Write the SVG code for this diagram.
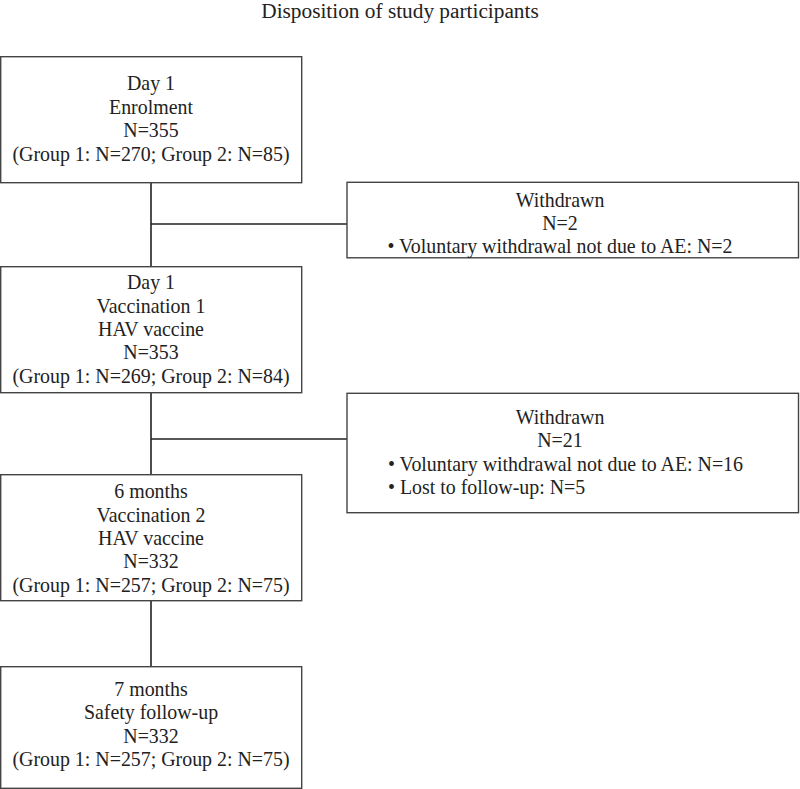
<svg xmlns="http://www.w3.org/2000/svg" width="800" height="789" viewBox="0 0 800 789">
<style>
text{font-family:"Liberation Serif","Times New Roman",serif;font-size:19.9px;fill:#222}
.c{text-anchor:middle}
.t{font-size:21.3px}
.box{fill:#fff;stroke:#444;stroke-width:1.4}
.ln{stroke:#222;stroke-width:1.6;fill:none}
</style>
<rect width="800" height="789" fill="#fff"/>
<text class="c t" x="400" y="18">Disposition of study participants</text>
<g id="connectors">
<path class="ln" d="M151 183V267M151 224H347M151 393V475M151 439H347M151 601V667"/>
</g>
<g id="enrolment">
<rect class="box" x="0.7" y="56.7" width="301" height="126"/>
<text class="c" x="151" y="90">Day 1</text>
<text class="c" x="151" y="113.5">Enrolment</text>
<text class="c" x="151" y="137">N=355</text>
<text class="c" x="151" y="160.5">(Group 1: N=270; Group 2: N=85)</text>
</g>
<g id="withdrawn1">
<rect class="box" x="347" y="182.3" width="451.5" height="75.5"/>
<text class="c" x="560" y="206.7">Withdrawn</text>
<text class="c" x="560" y="230">N=2</text>
<text class="c" x="560" y="253.3">• Voluntary withdrawal not due to AE: N=2</text>
</g>
<g id="vaccination1">
<rect class="box" x="0.7" y="266.7" width="301" height="126"/>
<text class="c" x="151" y="289.3">Day 1</text>
<text class="c" x="151" y="312.7">Vaccination 1</text>
<text class="c" x="151" y="336">HAV vaccine</text>
<text class="c" x="151" y="359.3">N=353</text>
<text class="c" x="151" y="382.7">(Group 1: N=269; Group 2: N=84)</text>
</g>
<g id="withdrawn2">
<rect class="box" x="347" y="393.3" width="451.5" height="119.4"/>
<text class="c" x="560" y="424">Withdrawn</text>
<text class="c" x="560" y="447.3">N=21</text>
<text x="388" y="470.7">• Voluntary withdrawal not due to AE: N=16</text>
<text x="388" y="494">• Lost to follow-up: N=5</text>
</g>
<g id="vaccination2">
<rect class="box" x="0.7" y="474.7" width="301" height="126"/>
<text class="c" x="151" y="498.3">6 months</text>
<text class="c" x="151" y="521.7">Vaccination 2</text>
<text class="c" x="151" y="545">HAV vaccine</text>
<text class="c" x="151" y="568.3">N=332</text>
<text class="c" x="151" y="591.7">(Group 1: N=257; Group 2: N=75)</text>
</g>
<g id="followup">
<rect class="box" x="0.7" y="666.7" width="301" height="121.6"/>
<text class="c" x="151" y="696">7 months</text>
<text class="c" x="151" y="719.3">Safety follow-up</text>
<text class="c" x="151" y="742.7">N=332</text>
<text class="c" x="151" y="766">(Group 1: N=257; Group 2: N=75)</text>
</g>
</svg>
